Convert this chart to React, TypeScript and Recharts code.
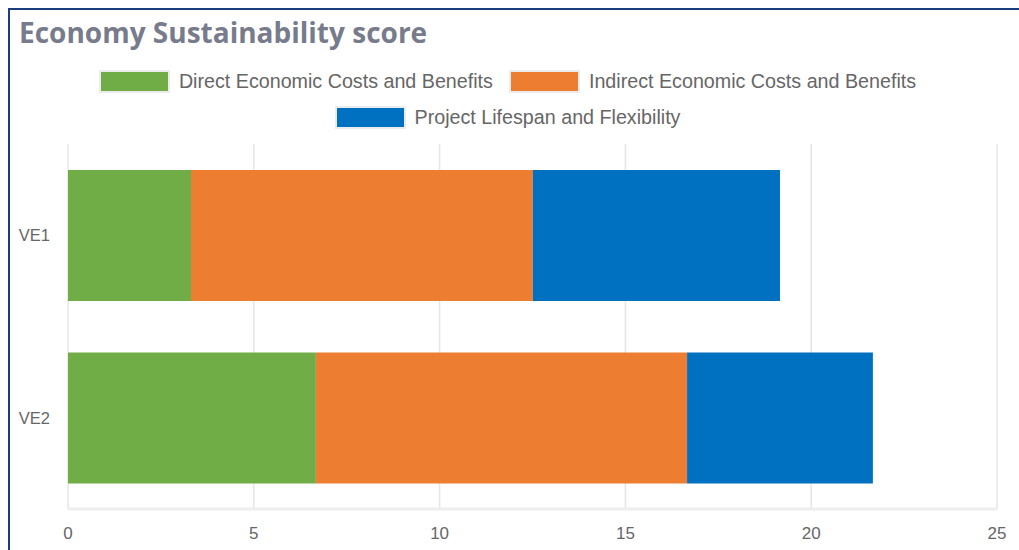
import React from "react"
import { BarChart, Bar, XAxis, YAxis, CartesianGrid } from "recharts"

const categories = ["VE1", "VE2"]
const directValues = [3.31, 6.67]
const indirectValues = [9.2, 9.99]
const lifespanValues = [6.65, 5.0]
const xTicks = [0, 5, 10, 15, 20, 25]

const seriesNames = [
  "Direct Economic Costs and Benefits",
  "Indirect Economic Costs and Benefits",
  "Project Lifespan and Flexibility",
]
const seriesKeys = ["direct", "indirect", "lifespan"]
const seriesColors = ["#70AD47", "#ED7D31", "#0070C0"]

const data = categories.map((name, i) => ({
  name,
  direct: directValues[i],
  indirect: indirectValues[i],
  lifespan: lifespanValues[i],
}))

function LegendItem({ index }: { index: number }) {
  return (
    <div style={{ display: "flex", alignItems: "center", margin: "0 8px" }}>
      <div
        style={{
          width: 67,
          height: 19,
          background: seriesColors[index],
          border: "2px solid #ececec",
          marginRight: 9,
        }}
      />
      <span>{seriesNames[index]}</span>
    </div>
  )
}

export default function App() {
  return (
    <div style={{ position: "relative", width: 1019, height: 550, overflow: "hidden", background: "#fff" }}>
      <style>{"body{margin:0;overflow:hidden}"}</style>
      <div
        style={{
          position: "absolute",
          left: 8,
          top: 8,
          right: 0,
          bottom: 0,
          borderTop: "2px solid #1B3F7E",
          borderLeft: "2px solid #1B3F7E",
          overflow: "hidden",
        }}
      >
        <div
          style={{
            position: "absolute",
            left: 9,
            top: 8,
            fontFamily: "'Open Sans', sans-serif",
            fontWeight: 700,
            fontSize: 28,
            lineHeight: "28px",
            color: "#777B8C",
            whiteSpace: "nowrap",
          }}
        >
          Economy Sustainability score
        </div>
        <div
          style={{
            position: "absolute",
            left: 0,
            width: 995,
            top: 58,
            fontFamily: "'Liberation Sans', Arial, sans-serif",
            fontSize: 19.7,
            color: "#666",
          }}
        >
          <div style={{ display: "flex", justifyContent: "center", height: 26 }}>
            <LegendItem index={0} />
            <LegendItem index={1} />
          </div>
          <div style={{ display: "flex", justifyContent: "center", height: 26, marginTop: 10 }}>
            <LegendItem index={2} />
          </div>
        </div>
        <div style={{ position: "absolute", left: 0, top: 0 }}>
          <BarChart
            width={1009}
            height={540}
            data={data}
            layout="vertical"
            margin={{ top: 134, right: 22, bottom: 11, left: 0 }}
            barCategoryGap={26}
          >
            <CartesianGrid horizontal={false} stroke="#e6e6e6" strokeWidth={1.5} />
            <XAxis
              type="number"
              domain={[0, 25]}
              ticks={xTicks}
              tickLine={false}
              axisLine={{ stroke: "#eeeeee", strokeWidth: 3 }}
              tickMargin={12}
              tick={{ fill: "#666", fontSize: 17, fontFamily: "'Liberation Sans', Arial, sans-serif" }}
              height={30}
            />
            <YAxis
              type="category"
              dataKey="name"
              width={58}
              tickLine={false}
              axisLine={false}
              tickMargin={12}
              tick={{ fill: "#666", fontSize: 16.5, fontFamily: "'Liberation Sans', Arial, sans-serif" }}
            />
            {seriesKeys.map((key, i) => (
              <Bar
                key={key}
                dataKey={key}
                name={seriesNames[i]}
                stackId="a"
                fill={seriesColors[i]}
                isAnimationActive={false}
              />
            ))}
          </BarChart>
        </div>
      </div>
    </div>
  )
}
